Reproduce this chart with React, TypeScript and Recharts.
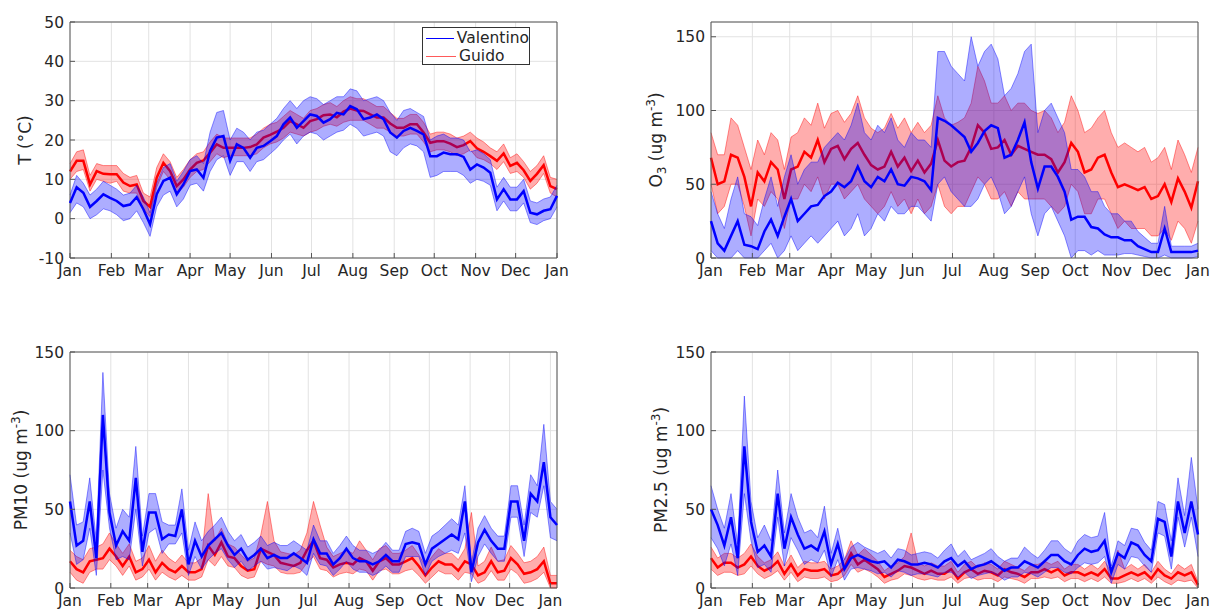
import { ComposedChart, Area, Line, XAxis, YAxis, CartesianGrid, ReferenceArea, Legend } from 'recharts';

const FONT = '"DejaVu Sans", Verdana, sans-serif';
const TEXT = '#262626';
const BLUE = '#0000ff';
const RED = '#ff0000';

// sampling grid (day of year)
const DAYS = [0, 5, 10, 15, 20, 25, 30, 35, 40, 45, 50, 55, 60, 65, 70, 75, 80, 85, 90, 95, 100, 105, 110, 115, 120, 125, 130, 135, 140, 145, 150, 155, 160, 165, 170, 175, 180, 185, 190, 195, 200, 205, 210, 215, 220, 225, 230, 235, 240, 245, 250, 255, 260, 265, 270, 275, 280, 285, 290, 295, 300, 305, 310, 315, 320, 325, 330, 335, 340, 345, 350, 355, 360, 365];
const DAYS_PM10 = [...DAYS, 370];

const MONTH_TICKS = [0, 31, 59, 90, 120, 151, 181, 212, 243, 273, 304, 334, 365];
const MONTH_LABELS = ['Jan', 'Feb', 'Mar', 'Apr', 'May', 'Jun', 'Jul', 'Aug', 'Sep', 'Oct', 'Nov', 'Dec', 'Jan'];

// Temperature
const T_VAL_MEAN = [4, 8, 6.6, 3, 4.5, 6.2, 5.3, 4.5, 3.2, 3.6, 5.5, 2.4, -1.4, 6.2, 9.6, 10.4, 6.2, 8.7, 12.1, 12.5, 10.4, 17.2, 20.6, 21, 14.7, 18.9, 18, 15.5, 18, 18.5, 19.7, 21, 24, 25.7, 23.1, 24.8, 26.5, 26.1, 24.4, 25.3, 26.9, 26.5, 28.6, 27.8, 25.3, 25.7, 26.5, 25.3, 21.9, 20.6, 22.3, 23.1, 22.3, 21.4, 15.9, 15.9, 16.8, 16.4, 16.4, 15.7, 12.5, 13.8, 13, 11.7, 4.9, 7.5, 4.9, 4.9, 7, 1.5, 1.1, 2, 2.4, 5.8];
const T_VAL_LO = [1.5, 4, 3, 0, 1, 2.5, 2, 1, -0.5, 0, 2, -1, -4.5, 3, 6, 7, 3, 5, 8.5, 9, 7, 12, 15, 16, 11, 14.5, 14.5, 12, 14.5, 15, 16.5, 18, 20, 21.5, 19, 21, 22, 21.5, 20, 21, 22, 22.5, 24, 23, 21, 21.5, 22, 21, 17, 16, 18, 19, 18.5, 17, 10.5, 11, 12, 12, 12, 11, 9, 10, 9.5, 8.5, 2, 4.5, 2, 2, 4, -1, -1.5, -0.5, 0, 3];
const T_VAL_HI = [6, 11, 9, 6, 7.5, 9.5, 8.5, 7.5, 6, 6.5, 8.5, 5.5, 1.5, 9, 13, 14, 9.5, 12, 15, 16, 14, 22, 27, 27.5, 20, 23, 22, 20, 22, 22.5, 24, 25.5, 28, 30, 28, 30, 31, 30.5, 29, 30, 31, 31, 33, 32.5, 30, 30.5, 31, 30, 27, 25, 27.5, 28, 27, 26, 20, 21, 21.5, 20.5, 20.5, 20, 17, 17.5, 16.5, 15, 8, 10.5, 8, 8, 10, 4.5, 4, 5, 5.5, 8.5];
const T_GUI_MEAN = [12, 14.7, 14.7, 8.7, 12.1, 11.4, 11.3, 11.3, 9.2, 8.3, 8.7, 4.5, 3, 10.4, 14.2, 12.1, 8.3, 10, 12.5, 14.2, 14.8, 16.8, 18.9, 18, 18, 18, 18, 18.2, 18.9, 20.6, 21.3, 22.1, 23.1, 24.8, 24, 23.1, 24.8, 25.3, 26.3, 26.5, 25.8, 27.2, 28, 27.5, 27.4, 26.5, 25.7, 25.7, 24.2, 23.1, 23.1, 24, 24, 21.9, 19.3, 19.7, 19.7, 19.1, 18.2, 18.7, 19.7, 17.9, 17, 15.9, 14.7, 16.6, 13.4, 14.2, 12.3, 9.6, 11.4, 13.6, 8.3, 7.5];
const T_GUI_LO = [10, 12, 12.5, 7, 10, 9.5, 9, 9.5, 7, 6.5, 6.5, 2.5, 0.5, 8, 12, 10, 6.5, 8, 10.5, 12, 12.5, 14.5, 16.5, 15.5, 16, 16, 16, 16, 16.5, 18, 19, 19.5, 20.5, 22, 21.5, 21, 22, 22.5, 23.5, 24, 23.5, 24.5, 25, 25, 25, 24, 23, 23, 22, 21, 21, 21.5, 21.5, 19.5, 17, 17.5, 17.5, 17, 16, 16.5, 17.5, 15.5, 15, 14, 12.5, 14.5, 11.5, 12, 10.5, 7.5, 9, 11.5, 6.5, 5.5];
const T_GUI_HI = [14, 17, 17.5, 11, 14, 13.5, 13.5, 13.5, 11.5, 10.5, 11, 6.5, 5.5, 13, 16.5, 14.5, 10.5, 12.5, 15, 16.5, 17, 19.5, 21.5, 20.5, 20.5, 20.5, 20.5, 20.5, 21.5, 23, 24, 24.5, 26, 27.5, 26.5, 25.5, 27.5, 28, 29, 29.5, 28.5, 30, 31, 30.5, 30.5, 29.5, 28.5, 28.5, 27, 25.5, 25.5, 26.5, 26.5, 24.5, 21.5, 22, 22, 21.5, 20.5, 21, 22, 20.5, 19.5, 18, 17, 19, 15.5, 16.5, 14.5, 12, 13.5, 16, 10.5, 10];

// O3
const O3_VAL_MEAN = [25, 10, 5, 15, 25, 9, 8, 6, 18, 26, 15, 28, 40, 25, 30, 35, 36, 42, 45, 51, 48, 52, 62, 52, 48, 55, 52, 60, 50, 49, 55, 54, 52, 46, 95, 93, 90, 86, 82, 72, 78, 86, 90, 88, 68, 70, 80, 92, 65, 47, 62, 62, 55, 45, 26, 28, 28, 21, 20, 16, 14, 14, 12, 12, 8, 6, 4, 4, 20, 4, 4, 4, 4, 5];
const O3_VAL_LO = [5, 0, 0, 0, 5, 0, 0, 0, 5, 10, 0, 5, 15, 5, 10, 15, 10, 15, 20, 25, 15, 20, 30, 15, 20, 30, 25, 35, 30, 30, 35, 35, 30, 25, 50, 55, 45, 40, 35, 35, 40, 50, 55, 45, 30, 35, 45, 55, 30, 15, 30, 35, 25, 15, 0, 5, 5, 2, 5, 2, 2, 2, 3, 3, 2, 1, 0, 0, 2, 0, 0, 0, 0, 1];
const O3_VAL_HI = [45, 30, 20, 40, 55, 30, 28, 22, 40, 55, 35, 55, 70, 50, 60, 65, 65, 75, 80, 85, 80, 90, 105, 85, 80, 90, 85, 95, 80, 75, 85, 80, 80, 75, 140, 140, 130, 125, 120, 150, 130, 140, 145, 135, 110, 115, 125, 140, 145, 85, 100, 105, 95, 85, 60, 60, 55, 45, 45, 35, 30, 30, 25, 25, 18, 14, 10, 10, 35, 8, 8, 8, 8, 10];
const O3_GUI_MEAN = [68, 50, 52, 70, 68, 55, 35, 58, 52, 65, 60, 40, 60, 62, 72, 68, 80, 65, 74, 76, 67, 74, 78, 70, 63, 60, 62, 72, 62, 68, 59, 66, 58, 64, 80, 66, 62, 65, 66, 75, 90, 85, 74, 75, 80, 70, 76, 74, 72, 70, 70, 67, 58, 65, 78, 72, 58, 60, 68, 70, 58, 48, 50, 48, 46, 48, 40, 42, 50, 38, 54, 45, 34, 52];
const O3_GUI_LO = [50, 30, 35, 50, 50, 35, 15, 40, 35, 45, 40, 20, 40, 40, 50, 45, 55, 40, 50, 50, 40, 45, 50, 40, 35, 30, 35, 45, 35, 40, 30, 40, 30, 35, 50, 35, 30, 35, 35, 45, 55, 50, 40, 40, 45, 35, 45, 40, 40, 40, 40, 35, 30, 35, 50, 45, 30, 30, 40, 40, 30, 20, 25, 20, 20, 20, 15, 15, 20, 12, 25, 20, 10, 25];
const O3_GUI_HI = [85, 70, 70, 95, 90, 75, 60, 80, 70, 85, 80, 60, 82, 85, 95, 90, 105, 88, 98, 100, 92, 98, 110, 95, 88, 85, 88, 98, 88, 95, 85, 92, 85, 90, 110, 95, 90, 92, 95, 105, 130, 120, 105, 105, 110, 100, 105, 105, 100, 98, 100, 95, 85, 92, 110, 100, 85, 88, 95, 100, 85, 75, 78, 75, 72, 75, 65, 68, 75, 60, 80, 70, 58, 75];

// PM10 (runs a few days into the next year)
const PM10_VAL_MEAN = [55, 27, 30, 55, 19, 110, 48, 27, 36, 30, 70, 23, 48, 48, 31, 34, 33, 50, 15, 30, 20, 27, 31, 35, 27, 21, 25, 18, 21, 25, 19, 21, 19, 19, 22, 19, 16, 31, 22, 22, 15, 19, 25, 19, 17, 17, 15, 17, 21, 17, 17, 28, 29, 28, 15, 25, 28, 31, 34, 31, 55, 10, 29, 37, 30, 25, 25, 55, 55, 30, 60, 55, 80, 45, 40];
const PM10_VAL_LO = [35, 15, 18, 38, 8, 75, 38, 18, 20, 18, 50, 14, 35, 38, 22, 28, 28, 35, 8, 20, 12, 18, 22, 25, 18, 13, 17, 11, 14, 17, 12, 13, 12, 11, 14, 12, 8, 22, 15, 14, 8, 12, 17, 12, 10, 10, 8, 10, 14, 10, 10, 20, 20, 20, 8, 17, 20, 22, 24, 22, 35, 4, 20, 28, 22, 17, 17, 45, 45, 20, 48, 45, 65, 32, 30];
const PM10_VAL_HI = [72, 40, 42, 70, 30, 137, 60, 38, 50, 45, 90, 33, 60, 60, 42, 40, 40, 63, 24, 42, 30, 36, 40, 45, 36, 30, 34, 26, 29, 33, 27, 29, 27, 27, 30, 27, 24, 40, 30, 30, 22, 27, 33, 27, 24, 24, 22, 24, 29, 24, 24, 36, 38, 36, 22, 33, 36, 40, 44, 40, 65, 16, 38, 46, 38, 33, 33, 65, 65, 40, 72, 65, 104, 55, 50];
const PM10_GUI_MEAN = [17, 12, 10, 17, 18, 19, 25, 20, 14, 20, 10, 12, 18, 10, 16, 12, 10, 14, 10, 10, 12, 27, 21, 29, 20, 19, 14, 11, 12, 25, 23, 21, 16, 15, 14, 16, 24, 30, 19, 18, 13, 15, 16, 15, 19, 17, 11, 17, 19, 15, 15, 17, 19, 14, 8, 13, 17, 15, 15, 11, 17, 15, 8, 10, 17, 10, 11, 19, 15, 9, 10, 12, 17, 3, 3];
const PM10_GUI_LO = [10, 5, 3, 10, 12, 12, 18, 14, 8, 14, 5, 7, 12, 5, 10, 7, 5, 8, 5, 5, 7, 18, 14, 20, 14, 13, 8, 6, 7, 17, 15, 14, 10, 9, 9, 10, 16, 20, 12, 11, 7, 9, 10, 9, 12, 11, 5, 11, 12, 9, 9, 11, 12, 8, 3, 7, 11, 9, 9, 5, 10, 9, 3, 5, 11, 5, 5, 12, 9, 3, 4, 6, 10, 0, 0];
const PM10_GUI_HI = [24, 20, 18, 25, 26, 28, 35, 28, 22, 28, 17, 19, 27, 17, 24, 19, 16, 21, 16, 16, 19, 60, 30, 38, 28, 26, 21, 17, 19, 34, 55, 30, 23, 22, 21, 24, 35, 55, 40, 26, 20, 22, 24, 22, 30, 24, 18, 25, 27, 22, 22, 24, 27, 21, 14, 20, 25, 22, 22, 18, 25, 48, 14, 17, 26, 17, 18, 27, 22, 16, 17, 20, 26, 8, 8];

// PM2.5
const PM25_VAL_MEAN = [50, 40, 27, 45, 19, 90, 42, 23, 27, 20, 60, 25, 45, 34, 25, 27, 24, 36, 15, 28, 12, 19, 21, 19, 17, 16, 17, 13, 18, 17, 15, 15, 16, 15, 13, 17, 19, 14, 17, 12, 14, 15, 17, 14, 11, 13, 13, 17, 15, 13, 17, 21, 21, 17, 15, 21, 25, 23, 24, 30, 10, 22, 19, 29, 27, 21, 17, 44, 42, 20, 55, 35, 55, 34];
const PM25_VAL_LO = [32, 25, 14, 28, 8, 60, 30, 13, 15, 10, 45, 14, 32, 24, 15, 18, 16, 24, 7, 18, 5, 12, 13, 12, 11, 9, 10, 7, 11, 10, 8, 9, 9, 8, 7, 10, 10, 7, 10, 6, 8, 9, 10, 8, 5, 7, 7, 10, 9, 7, 10, 13, 13, 10, 9, 13, 16, 15, 16, 20, 3, 15, 12, 20, 19, 14, 10, 35, 33, 12, 45, 26, 45, 20];
const PM25_VAL_HI = [65, 50, 38, 60, 28, 122, 55, 32, 40, 30, 75, 35, 60, 45, 35, 37, 32, 52, 22, 38, 18, 26, 29, 26, 24, 22, 24, 19, 25, 24, 21, 22, 23, 22, 19, 24, 28, 20, 24, 18, 20, 22, 25, 20, 17, 19, 19, 26, 22, 19, 24, 30, 30, 25, 22, 30, 34, 32, 33, 48, 14, 30, 27, 38, 37, 29, 24, 55, 53, 30, 70, 46, 83, 50];
const PM25_GUI_MEAN = [19, 13, 16, 16, 13, 15, 20, 14, 11, 13, 17, 9, 15, 8, 12, 11, 11, 12, 8, 9, 13, 22, 15, 18, 15, 12, 7, 9, 11, 14, 13, 11, 9, 11, 9, 9, 12, 6, 10, 12, 9, 11, 10, 8, 12, 10, 9, 7, 10, 10, 12, 10, 12, 8, 10, 10, 8, 10, 8, 12, 6, 6, 8, 10, 8, 10, 6, 12, 8, 6, 10, 8, 10, 2];
const PM25_GUI_LO = [12, 8, 10, 10, 8, 9, 14, 9, 6, 8, 11, 5, 10, 4, 7, 6, 6, 7, 4, 5, 8, 15, 10, 12, 10, 7, 3, 5, 6, 9, 8, 6, 5, 6, 5, 5, 7, 3, 6, 7, 5, 6, 6, 4, 7, 6, 5, 3, 6, 6, 7, 6, 7, 4, 6, 6, 4, 6, 4, 7, 3, 3, 4, 6, 4, 6, 3, 7, 4, 2, 5, 4, 5, 0];
const PM25_GUI_HI = [26, 19, 22, 22, 19, 22, 28, 20, 16, 18, 23, 14, 21, 13, 17, 16, 16, 17, 12, 14, 18, 30, 21, 25, 21, 17, 11, 14, 16, 20, 35, 16, 14, 16, 14, 14, 17, 10, 15, 17, 13, 16, 15, 12, 17, 15, 13, 11, 15, 15, 17, 15, 17, 12, 15, 15, 12, 15, 12, 17, 10, 24, 12, 15, 12, 15, 10, 17, 12, 9, 15, 12, 15, 4];

const LEGEND_ITEMS = [
  { name: 'Valentino', color: BLUE },
  { name: 'Guido', color: '#ff5a5a' },
];

const renderLegend = () => (
  <div style={{ width: 108, height: 38, boxSizing: 'border-box', border: '1px solid #333', background: '#fff', fontFamily: FONT, fontSize: 15.5, color: TEXT, padding: '1px 0 0 3px', lineHeight: '18px' }}>
    {LEGEND_ITEMS.map((item) => (
      <div key={item.name} style={{ display: 'flex', alignItems: 'center' }}>
        <span style={{ display: 'inline-block', width: 30, borderTop: `1px solid ${item.color}`, marginRight: 3 }} />
        {item.name}
      </div>
    ))}
  </div>
);

interface PanelProps {
  left: number;
  top: number;
  days: number[];
  xMax: number;
  yDomain: [number, number];
  yTicks: number[];
  vMean: number[]; vLo: number[]; vHi: number[];
  gMean: number[]; gLo: number[]; gHi: number[];
  legend?: boolean;
}

function Panel(p: PanelProps) {
  const data = p.days.map((d, i) => ({
    day: d,
    vBand: [p.vLo[i], p.vHi[i]],
    vMean: p.vMean[i],
    gBand: [p.gLo[i], p.gHi[i]],
    gMean: p.gMean[i],
  }));
  const tick = { fontSize: 15.5, fill: TEXT, fontFamily: FONT };
  return (
    <div style={{ position: 'absolute', left: p.left, top: p.top }}>
      <ComposedChart width={582} height={288} data={data} margin={{ top: 22, right: 25, bottom: 0, left: 0 }}>
        <CartesianGrid stroke="#e2e2e2" />
        <XAxis
          dataKey="day"
          type="number"
          domain={[0, p.xMax]}
          ticks={MONTH_TICKS}
          interval={0}
          height={30}
          axisLine={false}
          tickSize={-5}
          tickMargin={12}
          tickLine={{ stroke: '#555' }}
          tick={tick}
          tickFormatter={(v: number) => MONTH_LABELS[MONTH_TICKS.indexOf(v)]}
        />
        <YAxis
          type="number"
          domain={p.yDomain}
          ticks={p.yTicks}
          interval={0}
          width={70}
          axisLine={false}
          tickSize={-5}
          tickMargin={11}
          tickLine={{ stroke: '#555' }}
          tick={tick}
        />
        <Area dataKey="gBand" type="linear" stroke={RED} strokeOpacity={0.55} strokeWidth={0.8} fill={RED} fillOpacity={0.32} dot={false} activeDot={false} isAnimationActive={false} />
        {/* red mean drawn as an unfilled area so it sits beneath the blue band */}
        <Area dataKey="gMean" type="linear" stroke={RED} strokeWidth={2.5} fill="none" fillOpacity={0} dot={false} activeDot={false} isAnimationActive={false} />
        <Area dataKey="vBand" type="linear" stroke={BLUE} strokeOpacity={0.55} strokeWidth={0.8} fill={BLUE} fillOpacity={0.32} dot={false} activeDot={false} isAnimationActive={false} />
        <Line dataKey="vMean" type="linear" stroke={BLUE} strokeWidth={2.5} dot={false} activeDot={false} isAnimationActive={false} />
        <ReferenceArea x1={0} x2={p.xMax} y1={p.yDomain[0]} y2={p.yDomain[1]} fill="none" fillOpacity={0} stroke="#555" strokeWidth={1} ifOverflow="visible" />
        {p.legend && (
          <Legend
            layout="vertical"
            align="center"
            verticalAlign="middle"
            content={renderLegend}
            wrapperStyle={{ left: 422, top: 27, width: 108, height: 38 }}
          />
        )}
      </ComposedChart>
    </div>
  );
}

const yLabel = (x: number, y: number, content: React.ReactNode) => (
  <div style={{ position: 'absolute', left: x, top: y, transform: 'translate(-50%, -50%) rotate(-90deg)', whiteSpace: 'nowrap', fontFamily: FONT, fontSize: 17, color: TEXT }}>
    {content}
  </div>
);

export default function App() {
  const sub = { fontSize: 12, verticalAlign: 'sub' as const, lineHeight: 0 };
  const sup = { fontSize: 12, verticalAlign: 'super' as const, lineHeight: 0 };
  return (
    <div style={{ position: 'absolute', left: 0, top: 0, width: 1212, height: 612, background: '#fff', overflow: 'hidden' }}>
      <Panel left={0} top={0} days={DAYS} xMax={365} yDomain={[-10, 50]} yTicks={[-10, 0, 10, 20, 30, 40, 50]}
        vMean={T_VAL_MEAN} vLo={T_VAL_LO} vHi={T_VAL_HI} gMean={T_GUI_MEAN} gLo={T_GUI_LO} gHi={T_GUI_HI} legend />
      <Panel left={641} top={0} days={DAYS} xMax={365} yDomain={[0, 160]} yTicks={[0, 50, 100, 150]}
        vMean={O3_VAL_MEAN} vLo={O3_VAL_LO} vHi={O3_VAL_HI} gMean={O3_GUI_MEAN} gLo={O3_GUI_LO} gHi={O3_GUI_HI} />
      <Panel left={0} top={330} days={DAYS_PM10} xMax={370} yDomain={[0, 150]} yTicks={[0, 50, 100, 150]}
        vMean={PM10_VAL_MEAN} vLo={PM10_VAL_LO} vHi={PM10_VAL_HI} gMean={PM10_GUI_MEAN} gLo={PM10_GUI_LO} gHi={PM10_GUI_HI} />
      <Panel left={641} top={330} days={DAYS} xMax={365} yDomain={[0, 150]} yTicks={[0, 50, 100, 150]}
        vMean={PM25_VAL_MEAN} vLo={PM25_VAL_LO} vHi={PM25_VAL_HI} gMean={PM25_GUI_MEAN} gLo={PM25_GUI_LO} gHi={PM25_GUI_HI} />
      {yLabel(25, 140, 'T (°C)')}
      {yLabel(656, 140, <span>O<span style={sub}>3</span> (ug m<span style={sup}>-3</span>)</span>)}
      {yLabel(21, 470, <span>PM10 (ug m<span style={sup}>-3</span>)</span>)}
      {yLabel(661, 470, <span>PM2.5 (ug m<span style={sup}>-3</span>)</span>)}
    </div>
  );
}
